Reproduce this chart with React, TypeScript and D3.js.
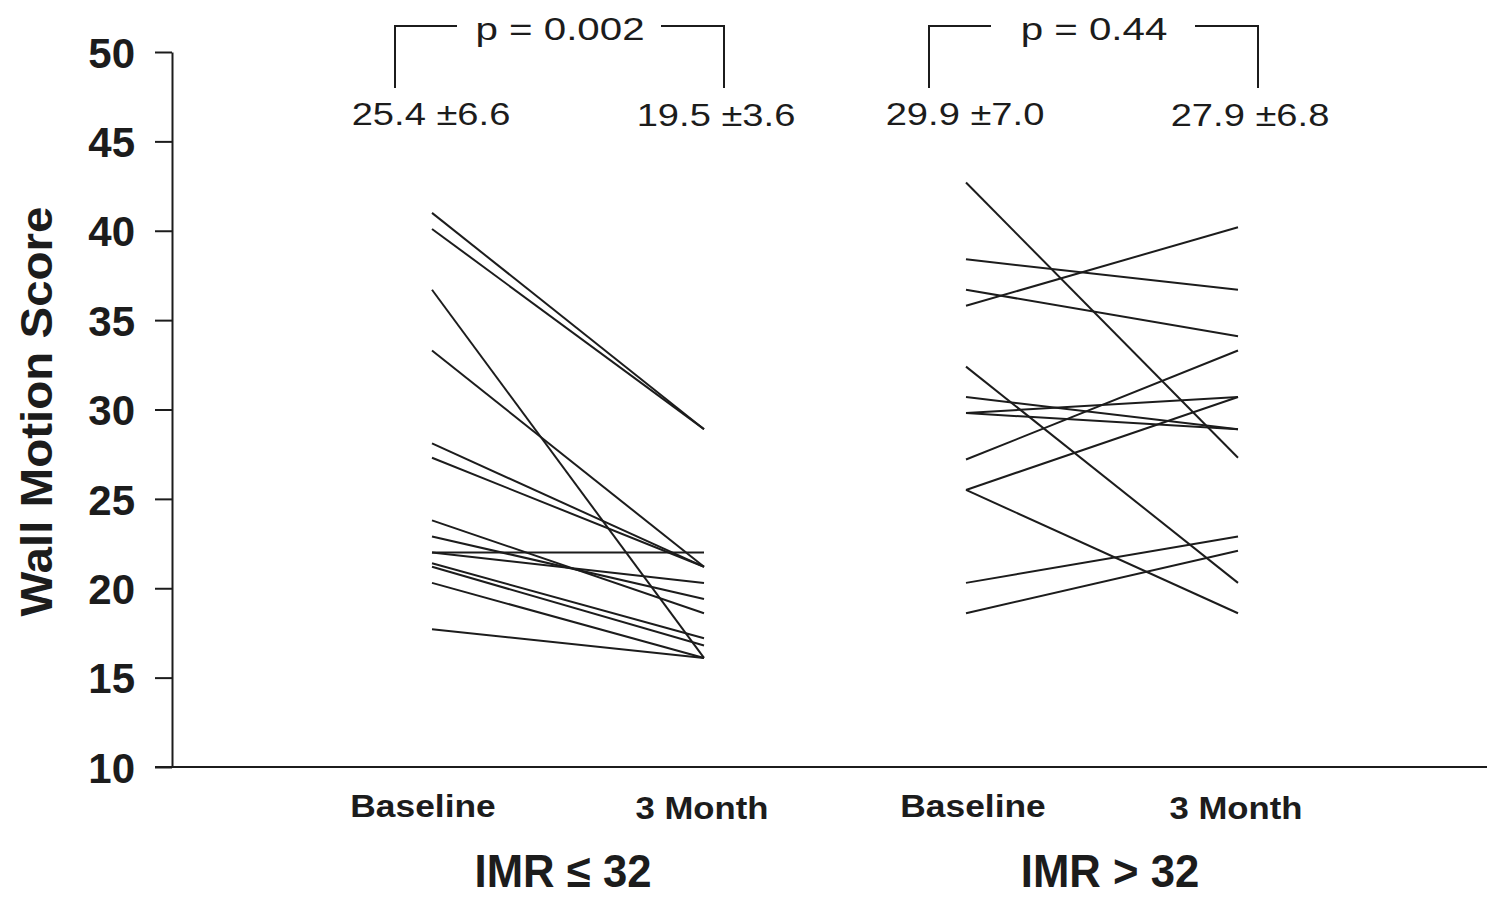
import React, { useEffect, useRef } from 'react';
import * as d3 from 'd3';

// groups and time points
const groups = ['IMR ≤ 32', 'IMR > 32'];
const timepoints = ['Baseline', '3 Month'];
const pValues = ['p = 0.002', 'p = 0.44'];
const baselineSummary = ['25.4 ±6.6', '29.9 ±7.0'];
const month3Summary = ['19.5 ±3.6', '27.9 ±6.8'];
const yTicks = [10, 15, 20, 25, 30, 35, 40, 45, 50];

// paired patient scores, IMR <= 32
const lowBaseline = [41.0, 40.1, 36.7, 33.3, 28.1, 27.3, 23.8, 22.9, 22.0, 22.0, 21.4, 21.2, 20.3, 17.7];
const lowMonth3 = [28.9, 28.9, 16.1, 21.2, 21.2, 21.2, 18.6, 19.4, 22.0, 20.3, 17.2, 16.8, 16.1, 16.1];

// paired patient scores, IMR > 32
const highBaseline = [42.7, 38.4, 36.7, 35.8, 32.4, 30.7, 29.8, 29.8, 27.2, 25.5, 25.5, 20.3, 18.6];
const highMonth3 = [27.3, 36.7, 34.1, 40.2, 20.3, 28.9, 30.7, 28.9, 33.3, 30.7, 18.6, 22.9, 22.1];

const FONT = "Arial, 'Liberation Sans', Helvetica, sans-serif";
const INK = '#1c1c1c';

const App = () => {
  const ref = useRef<SVGSVGElement>(null);

  useEffect(() => {
    const width = 1487;
    const height = 898;
    const svg = d3.select(ref.current);
    svg.selectAll('*').remove();
    svg.attr('width', width).attr('height', height);

    const y = d3.scaleLinear().domain([10, 50]).range([767, 52]);
    const gx = d3.scalePoint<string>().domain(groups).range([568, 1102]);
    const tx = d3.scalePoint<string>().domain(timepoints).range([-136, 136]);
    const xAt = (g: string, t: string) => (gx(g) as number) + (tx(t) as number);

    const axisX = 172;
    const groupLabelShift = [-5, 8];
    const baselineLabelShift = [-9, 7];

    // stretched text helper
    const label = (
      x: number,
      yy: number,
      text: string,
      size: number,
      weight: string,
      sx: number,
      anchor = 'middle'
    ) =>
      svg
        .append('text')
        .attr('transform', `translate(${x},${yy}) scale(${sx},1)`)
        .attr('text-anchor', anchor)
        .attr('font-family', FONT)
        .attr('font-size', size)
        .attr('font-weight', weight)
        .attr('fill', INK)
        .text(text);

    // y axis
    const yAxis = svg
      .append('g')
      .attr('transform', `translate(${axisX},0)`)
      .call(d3.axisLeft(y).tickValues(yTicks).tickSize(17).tickSizeOuter(0).tickPadding(20));
    yAxis.select('.domain').attr('stroke', INK).attr('stroke-width', 2);
    yAxis.selectAll('.tick line').attr('stroke', INK).attr('stroke-width', 2);
    yAxis
      .selectAll('.tick text')
      .attr('font-family', FONT)
      .attr('font-size', 42)
      .attr('font-weight', 'bold')
      .attr('fill', INK)
      .attr('dy', '0.36em');

    // x axis baseline
    svg
      .append('line')
      .attr('x1', axisX - 17)
      .attr('x2', width)
      .attr('y1', y(10))
      .attr('y2', y(10))
      .attr('stroke', INK)
      .attr('stroke-width', 2);

    // y axis title
    svg
      .append('text')
      .attr('transform', `translate(52,${(y(10) + y(50)) / 2 + 2}) rotate(-90) scale(1.08,1)`)
      .attr('text-anchor', 'middle')
      .attr('font-family', FONT)
      .attr('font-size', 44)
      .attr('font-weight', 'bold')
      .attr('fill', INK)
      .text('Wall Motion Score');

    const series = [
      { group: groups[0], before: lowBaseline, after: lowMonth3 },
      { group: groups[1], before: highBaseline, after: highMonth3 },
    ];

    series.forEach((s, gi) => {
      const x0 = xAt(s.group, timepoints[0]);
      const x1 = xAt(s.group, timepoints[1]);

      // paired lines
      svg
        .append('g')
        .selectAll('line')
        .data(d3.range(s.before.length))
        .enter()
        .append('line')
        .attr('x1', x0)
        .attr('x2', x1)
        .attr('y1', i => y(s.before[i]))
        .attr('y2', i => y(s.after[i]))
        .attr('stroke', INK)
        .attr('stroke-width', 2);

      // category labels
      label(x0 + baselineLabelShift[gi], 817, timepoints[0], 31, 'bold', 1.14);
      label(x1 - 2, 819, timepoints[1], 31, 'bold', 1.12);
      label((gx(s.group) as number) + groupLabelShift[gi], 887, s.group, 46, 'bold', 0.95);

      // means
      label(x0 - 1, 125, baselineSummary[gi], 31, 'normal', 1.23);
      label(x1 + 12, 126, month3Summary[gi], 31, 'normal', 1.23);

      // p value bracket
      const bl = x0 - 37;
      const br = x1 + 20;
      svg
        .append('path')
        .attr('d', `M${bl},88V26H${bl + 62}M${br - 63},26H${br}V88`)
        .attr('fill', 'none')
        .attr('stroke', INK)
        .attr('stroke-width', 2);
      label((gx(s.group) as number) - 8, 40, pValues[gi], 31, 'normal', 1.3);
    });
  }, []);

  return (
    <div style={{ position: 'absolute', left: 0, top: 0, background: '#fff' }}>
      <svg ref={ref} style={{ display: 'block' }} />
    </div>
  );
};

export default App;
